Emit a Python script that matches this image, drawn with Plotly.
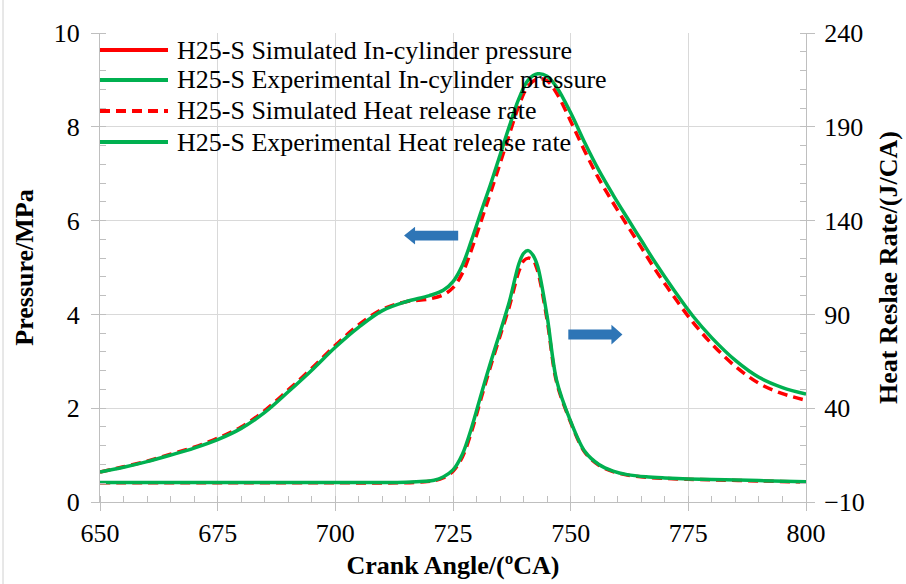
import plotly.graph_objects as go

# ---------------- data ----------------
crank_p = [650, 655, 660, 665, 670, 675, 680, 685, 690, 695, 700, 705, 710, 715, 720, 723, 725, 727,
           729, 731, 733, 735, 737, 739, 741, 743, 745, 747, 750, 753, 756, 759, 762, 765, 768, 772,
           776, 780, 785, 790, 795, 800]
p_exp = [0.64, 0.74, 0.86, 1.00, 1.15, 1.33, 1.57, 1.91, 2.35, 2.81, 3.30, 3.73, 4.08, 4.27, 4.40,
         4.52, 4.70, 5.05, 5.60, 6.20, 6.78, 7.40, 8.02, 8.60, 9.00, 9.13, 9.08, 8.85, 8.30, 7.66,
         7.07, 6.55, 6.06, 5.58, 5.10, 4.51, 3.96, 3.50, 3.02, 2.66, 2.44, 2.30]
p_sim = [0.64, 0.75, 0.87, 1.02, 1.17, 1.36, 1.60, 1.95, 2.39, 2.85, 3.34, 3.78, 4.11, 4.27, 4.33,
         4.42, 4.57, 4.88, 5.40, 6.00, 6.60, 7.22, 7.85, 8.45, 8.88, 9.02, 8.98, 8.72, 8.12, 7.48,
         6.89, 6.38, 5.90, 5.43, 4.95, 4.37, 3.83, 3.37, 2.89, 2.53, 2.31, 2.17]

crank_h = [650, 680, 700, 715, 719, 721, 723, 725, 727, 729, 731, 733, 735, 737, 739, 740, 741, 742,
           743, 745, 747, 750, 753, 756, 759, 762, 766, 770, 775, 780, 790, 800]
hrr_exp = [0.4, 0.4, 0.4, 0.5, 1.0, 1.6, 3.5, 7.1, 15.5, 30, 47.5, 64.5, 80.5, 97, 117, 122.5, 124,
           121.5, 115.5, 89, 55, 33, 17, 10, 6.5, 4.6, 3.4, 2.8, 2.3, 2.0, 1.4, 0.8]
hrr_sim = [0.2, 0.2, 0.2, 0.3, 0.8, 1.3, 3.0, 6.4, 14.0, 28, 45.5, 62.5, 78.5, 94.5, 113, 118.5, 120,
           119, 113, 87, 54, 32.5, 16.5, 9.6, 6.2, 4.4, 3.2, 2.6, 2.1, 1.8, 1.2, 0.6]

legend_labels = ["H25-S Simulated In-cylinder pressure",
                 "H25-S Experimental In-cylinder pressure",
                 "H25-S Simulated Heat release rate",
                 "H25-S Experimental Heat release rate"]

RED = "#FF0000"
GREEN = "#00B050"
BLUE = "#2E75B6"
FONT = "Liberation Serif"
DASH = "10px,6px"

fig = go.Figure()
fig.add_trace(go.Scatter(x=crank_h, y=hrr_sim, yaxis="y2", mode="lines", showlegend=False,
                         line=dict(color=RED, width=3.5, dash=DASH, shape="spline", smoothing=0.9)))
fig.add_trace(go.Scatter(x=crank_h, y=hrr_exp, yaxis="y2", mode="lines", showlegend=False,
                         line=dict(color=GREEN, width=3.5, shape="spline", smoothing=0.9)))
fig.add_trace(go.Scatter(x=crank_p, y=p_sim, mode="lines", showlegend=False,
                         line=dict(color=RED, width=3.5, dash=DASH, shape="spline", smoothing=1.0)))
fig.add_trace(go.Scatter(x=crank_p, y=p_exp, mode="lines", showlegend=False,
                         line=dict(color=GREEN, width=3.5, shape="spline", smoothing=1.0)))

# ---------------- manual legend ----------------
W, H = 906, 584
L, R, T, B = 100, 100, 33, 82
pw, ph = W - L - R, H - T - B
def px(xp):
    return (xp - L) / pw
def py(yp):
    return (H - B - yp) / ph

leg_styles = [(RED, "solid"), (GREEN, "solid"), (RED, DASH), (GREEN, "solid")]
leg_rows = [50, 80, 111, 142]
shapes = []
annotations = []
for (col, dsh), lab, row in zip(leg_styles, legend_labels, leg_rows):
    shapes.append(dict(type="line", xref="paper", yref="paper", x0=px(100), x1=px(168),
                       y0=py(row), y1=py(row), line=dict(color=col, width=4, dash=dsh)))
    annotations.append(dict(xref="paper", yref="paper", x=px(175), y=py(row), text=lab,
                            showarrow=False, xanchor="left", yanchor="middle",
                            font=dict(family=FONT, size=26, color="black")))

# blue block arrows (left -> pressure axis, right -> heat release axis)
def arrow_path(x_tail, x_tip, yc, head_len, head_half, shaft_half):
    d = 1 if x_tip > x_tail else -1
    xb = x_tip - d * head_len
    return (f"M {x_tail},{yc - shaft_half} L {xb},{yc - shaft_half} L {xb},{yc - head_half} "
            f"L {x_tip},{yc} L {xb},{yc + head_half} L {xb},{yc + shaft_half} "
            f"L {x_tail},{yc + shaft_half} Z")

shapes.append(dict(type="path", xref="x", yref="y", path=arrow_path(726.1, 714.6, 5.68, 2.34, 0.19, 0.106),
                   fillcolor=BLUE, line=dict(width=0)))
shapes.append(dict(type="path", xref="x", yref="y", path=arrow_path(749.5, 761.0, 3.57, 2.34, 0.21, 0.106),
                   fillcolor=BLUE, line=dict(width=0)))

# faint outer frame line on the left
shapes.append(dict(type="line", xref="paper", yref="paper", x0=px(3), x1=px(3), y0=py(0), y1=py(584),
                   line=dict(color="#d0d0d0", width=1)))

axis_common = dict(
    showline=True, linecolor="#bfbfbf", linewidth=1,
    ticks="outside", ticklen=8, tickcolor="#bfbfbf", tickwidth=1,
    tickfont=dict(family=FONT, size=26, color="black"),
    zeroline=False, automargin=False,
)

fig.update_layout(
    width=W, height=H,
    margin=dict(l=L, r=R, t=T, b=B),
    paper_bgcolor="white", plot_bgcolor="white",
    showlegend=False,
    xaxis=dict(range=[650, 800], tick0=650, dtick=25, showgrid=True, gridcolor="#d9d9d9",
               minor=dict(dtick=5, ticks="inside", ticklen=6, tickcolor="#bfbfbf", showgrid=False),
               title=dict(text="<b>Crank Angle/(ºCA)</b>", standoff=8,
                          font=dict(family=FONT, size=26, color="black")),
               **axis_common),
    yaxis=dict(range=[0, 10], tick0=0, dtick=2, showgrid=True, gridcolor="#d9d9d9",
               minor=dict(dtick=0.4, ticks="inside", ticklen=6, tickcolor="#bfbfbf", showgrid=False),
               ticklabelstandoff=6,
               title=dict(text="<b>Pressure/MPa</b>", standoff=12,
                          font=dict(family=FONT, size=26, color="black")),
               **axis_common),
    yaxis2=dict(range=[-10, 240], tick0=-10, dtick=50, overlaying="y", side="right", showgrid=False,
                minor=dict(dtick=10, ticks="inside", ticklen=6, tickcolor="#bfbfbf", showgrid=False),
                ticklabelstandoff=4,
                title=dict(text="<b>Heat Reslae Rate/(J/CA)</b>", standoff=14,
                           font=dict(family=FONT, size=26, color="black")),
                **axis_common),
    shapes=shapes,
    annotations=annotations,
)

fig.write_html("out.html")
